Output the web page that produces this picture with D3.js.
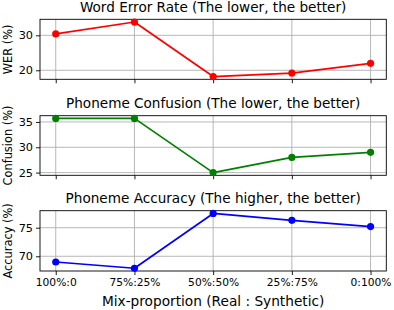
<!DOCTYPE html>
<html><head><meta charset="utf-8">
<script src="https://cdn.jsdelivr.net/npm/d3@7"></script>
<style>body{margin:0;background:#fff}svg{display:block}text{font-family:"DejaVu Sans",sans-serif;fill:#000}</style>
</head><body><svg id="c" width="394" height="310"></svg>
<script>
const categories = ["100%:0", "75%:25%", "50%:50%", "25%:75%", "0:100%"];
const werValues = [30.4, 33.8, 18.2, 19.2, 22.0];
const confusionValues = [35.7, 35.7, 25.0, 28.0, 29.0];
const accuracyValues = [69.0, 67.9, 77.5, 76.3, 75.2];
const werTicks = [20, 30];
const confusionTicks = [25, 30, 35];
const accuracyTicks = [70, 75];
const titles = ["Word Error Rate (The lower, the better)", "Phoneme Confusion (The lower, the better)", "Phoneme Accuracy (The higher, the better)"];
const yLabels = ["WER (%)", "Confusion (%)", "Accuracy (%)"];
const xLabel = "Mix-proportion (Real : Synthetic)";

const panels = [
  {vals: werValues, ticks: werTicks, color: "#ff0000", top: 19.3, bottom: 79.3},
  {vals: confusionValues, ticks: confusionTicks, color: "#008000", top: 115.7, bottom: 175.3},
  {vals: accuracyValues, ticks: accuracyTicks, color: "#0000ff", top: 210.7, bottom: 271}
];
const L = 40, R = 386.3;
const svg = d3.select("#c");
const x = d3.scalePoint().domain(categories).range([L, R]).padding(0.2);

panels.forEach((p, i) => {
  const mn = d3.min(p.vals), mx = d3.max(p.vals), pad = (mx - mn) * 0.05;
  const y = d3.scaleLinear().domain([mn - pad, mx + pad]).range([p.bottom, p.top]);
  const g = svg.append("g");
  g.selectAll(".gx").data(categories).enter().append("line")
    .attr("x1", d => x(d)).attr("x2", d => x(d)).attr("y1", p.top).attr("y2", p.bottom)
    .attr("stroke", "#b0b0b0").attr("stroke-width", 0.9);
  g.selectAll(".gy").data(p.ticks).enter().append("line")
    .attr("x1", L).attr("x2", R).attr("y1", d => y(d)).attr("y2", d => y(d))
    .attr("stroke", "#b0b0b0").attr("stroke-width", 0.9);
  const ya = g.append("g").attr("transform", `translate(${L},0)`)
    .call(d3.axisLeft(y).tickValues(p.ticks).tickSize(4).tickPadding(3).tickFormat(d3.format("d")));
  ya.select(".domain").remove();
  ya.selectAll("text").style("font-size", "11.3px").style("font-family", "DejaVu Sans");
  const xa = g.append("g").attr("transform", `translate(0,${p.bottom})`)
    .call(d3.axisBottom(x).tickSize(4).tickPadding(3.5));
  xa.select(".domain").remove();
  xa.selectAll("text").style("font-size", "10.7px").style("font-family", "DejaVu Sans");
  if (i < 2) xa.selectAll("text").remove();
  g.selectAll(".tick line").attr("stroke", "#000").attr("stroke-width", 0.9);
  g.append("rect").attr("x", L).attr("y", p.top).attr("width", R - L).attr("height", p.bottom - p.top)
    .attr("fill", "none").attr("stroke", "#000").attr("stroke-width", 0.9);
  const line = d3.line().x((d, j) => x(categories[j])).y(d => y(d));
  g.append("path").datum(p.vals).attr("d", line).attr("fill", "none")
    .attr("stroke", p.color).attr("stroke-width", 1.7).attr("stroke-linejoin", "round");
  g.selectAll(".pt").data(p.vals).enter().append("circle")
    .attr("cx", (d, j) => x(categories[j])).attr("cy", d => y(d)).attr("r", 3.6).attr("fill", p.color);
  svg.append("text").attr("x", (L + R) / 2).attr("y", p.top - 7.3).attr("text-anchor", "middle")
    .style("font-size", "13.6px").text(titles[i]);
  svg.append("text").attr("transform", `translate(12,${(p.top + p.bottom) / 2}) rotate(-90)`)
    .attr("text-anchor", "middle").style("font-size", "11.4px").text(yLabels[i]);
});
svg.append("text").attr("x", (L + R) / 2).attr("y", 305.5).attr("text-anchor", "middle")
  .style("font-size", "13.7px").text(xLabel);
</script></body></html>
